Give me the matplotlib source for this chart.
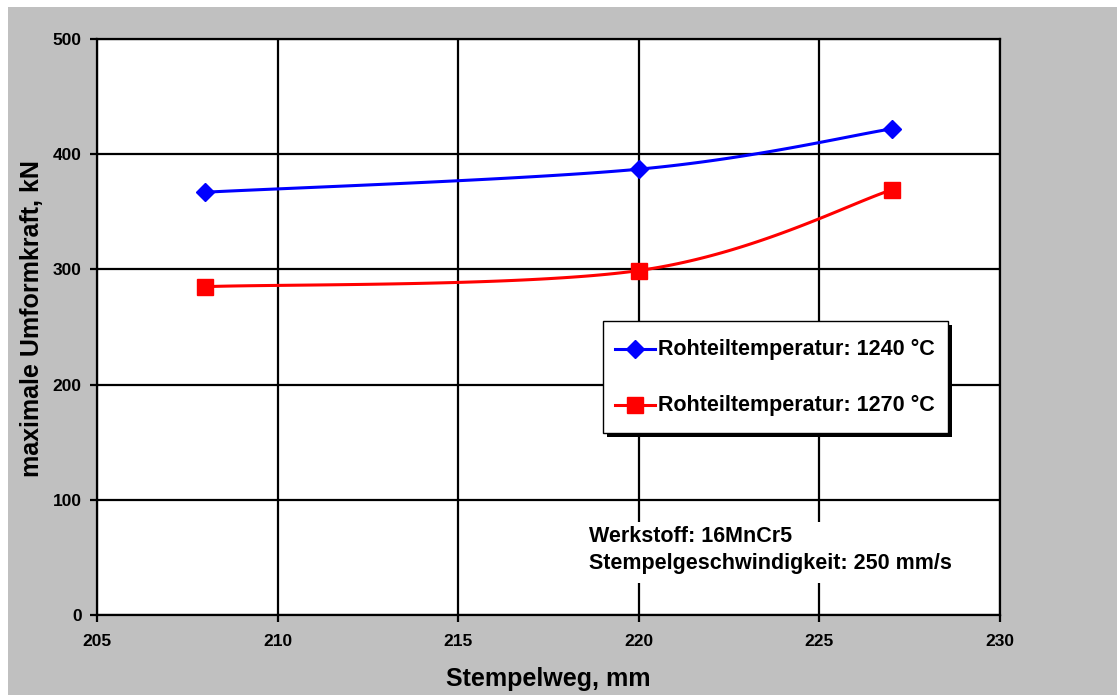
import numpy as np
import matplotlib
matplotlib.use("Agg")
import matplotlib.pyplot as plt
from matplotlib.patches import Rectangle
from matplotlib.lines import Line2D

plt.rcParams['font.family'] = ['Liberation Sans', 'DejaVu Sans']
plt.rcParams['font.weight'] = 'bold'

x_vals = [208, 220, 227]
y_1240 = [367, 387, 422]
y_1270 = [285, 299, 369]
labels = ['Rohteiltemperatur: 1240 °C', 'Rohteiltemperatur: 1270 °C']
x_ticks = [205, 210, 215, 220, 225, 230]
y_ticks = [0, 100, 200, 300, 400, 500]
note_lines = ['Werkstoff: 16MnCr5', 'Stempelgeschwindigkeit: 250 mm/s']


def smooth(xs, ys, n=60):
    # Catmull-Rom style smoothing as used by spreadsheet "smoothed line"
    xs = np.asarray(xs, float); ys = np.asarray(ys, float)
    P = np.column_stack([xs, ys])
    P = np.vstack([P[0], P, P[-1]])
    out = []
    for i in range(1, len(P) - 2):
        p0, p1, p2, p3 = P[i - 1], P[i], P[i + 1], P[i + 2]
        c1 = p1 + (p2 - p0) / 6.0
        c2 = p2 - (p3 - p1) / 6.0
        t = np.linspace(0, 1, n)[:, None]
        seg = ((1 - t) ** 3) * p1 + 3 * ((1 - t) ** 2) * t * c1 + 3 * (1 - t) * t ** 2 * c2 + t ** 3 * p2
        out.append(seg)
    seg = np.vstack(out)
    return seg[:, 0], seg[:, 1]


W, H = 1117, 695
fig = plt.figure(figsize=(W / 100, H / 100), dpi=100)
fig.patch.set_facecolor('white')
fig.patches.append(Rectangle((8 / W, 0), 1 - 8 / W, 1 - 7 / H, transform=fig.transFigure,
                             facecolor='#c0c0c0', edgecolor='none', zorder=-10))


def fx(px):
    return px / W


def fy(py):
    return 1 - py / H


ax = fig.add_axes([fx(97), fy(615), (1000 - 97) / W, (615 - 39) / H])
ax.set_facecolor('white')
ax.set_xlim(205, 230)
ax.set_ylim(0, 500)
ax.set_xticks(x_ticks)
ax.set_yticks(y_ticks)
ax.grid(True, color='black', linewidth=1.6)
ax.set_axisbelow(True)
for s in ax.spines.values():
    s.set_linewidth(1.6)
    s.set_color('black')
ax.tick_params(axis='both', direction='out', length=5, width=1.6, labelsize=12.5, pad=6)
ax.tick_params(axis='x', pad=9)
for lab in ax.get_xticklabels() + ax.get_yticklabels():
    lab.set_fontweight('bold')

colors = ['#0000ff', '#ff0000']
markers = ['D', 's']
msizes = [9.5, 11]

for yv, c, m, ms in zip([y_1240, y_1270], colors, markers, msizes):
    xs, ys = smooth(x_vals, yv)
    ax.plot(xs, ys, color=c, linewidth=2.2, zorder=3)
    ax.plot(x_vals, yv, linestyle='none', marker=m, markersize=ms, color=c, zorder=4)

# legend box with shadow (figure coords)
lx0, lx1, ly0, ly1 = 603, 948, 321, 433
fig.patches.append(Rectangle((fx(lx0 + 4), fy(ly1 + 4)), (lx1 - lx0) / W, (ly1 - ly0) / H,
                             transform=fig.transFigure, facecolor='black', edgecolor='none', zorder=5))
fig.patches.append(Rectangle((fx(lx0), fy(ly1)), (lx1 - lx0) / W, (ly1 - ly0) / H,
                             transform=fig.transFigure, facecolor='white', edgecolor='black',
                             linewidth=1.0, zorder=6))
for i, (lab, c, m, ms) in enumerate(zip(labels, colors, markers, msizes)):
    yy = 349 + i * 56
    fig.lines.append(Line2D([fx(615), fx(655)], [fy(yy), fy(yy)], transform=fig.transFigure,
                            color=c, linewidth=2.2, zorder=7))
    fig.lines.append(Line2D([fx(635)], [fy(yy)], transform=fig.transFigure, color=c,
                            marker=m, markersize=ms, linestyle='none', zorder=8))
    fig.text(fx(658), fy(yy), lab, fontsize=15.5, fontweight='bold', va='center', ha='left', zorder=9)

# note text with white background
fig.patches.append(Rectangle((fx(585), fy(583)), (962 - 585) / W, (583 - 522) / H,
                             transform=fig.transFigure, facecolor='white', edgecolor='none', zorder=5))
fig.text(fx(589), fy(537), note_lines[0], fontsize=15.5, fontweight='bold', va='center', ha='left', zorder=9)
fig.text(fx(589), fy(563), note_lines[1], fontsize=15.5, fontweight='bold', va='center', ha='left', zorder=9)

fig.text(fx(548), fy(679), 'Stempelweg, mm', fontsize=18, fontweight='bold', ha='center', va='center')
fig.text(fx(32), fy(319), 'maximale Umformkraft, kN', fontsize=18, fontweight='bold',
         ha='center', va='center', rotation=90)

fig.savefig('out.png', dpi=100, facecolor=fig.get_facecolor())
